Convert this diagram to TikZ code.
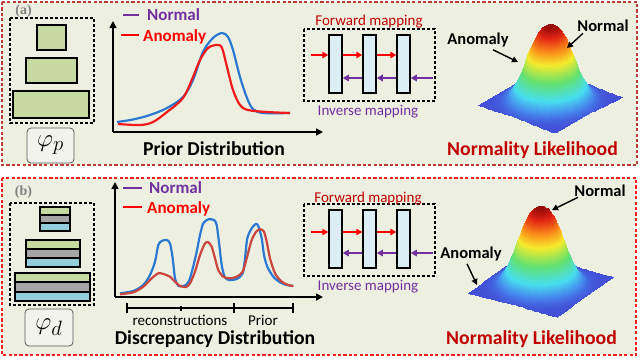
\documentclass[tikz,border=0pt]{standalone}
\usepackage{fontspec}
\setmainfont{Carlito}
\newfontfamily\labelserif{Liberation Serif}
\usepackage{pgfplots}
\pgfplotsset{compat=1.18}
\usetikzlibrary{arrows.meta}
\definecolor{panelbg}{HTML}{EDF0E1}
\definecolor{borderA}{HTML}{BE3A32}
\definecolor{borderB}{HTML}{FF1E1E}
\definecolor{darkred}{HTML}{C00000}
\definecolor{purp}{HTML}{7030A0}
\definecolor{curveblue}{HTML}{2A78D2}
\definecolor{curvered}{HTML}{F01A1A}
\definecolor{curvebrown}{HTML}{C9453D}
\definecolor{greenfill}{HTML}{C6D9A0}
\definecolor{grayfill}{HTML}{A6A6A6}
\definecolor{bluefill}{HTML}{92CDDC}
\definecolor{flowfill}{HTML}{DCEDF3}
\definecolor{phifill}{HTML}{F3F3EE}
\pgfplotsset{colormap={myjet}{rgb255(0cm)=(66,80,215) rgb255(0.8cm)=(70,140,238) rgb255(2cm)=(70,222,240) rgb255(4cm)=(100,225,110) rgb255(6cm)=(245,235,45) rgb255(7.5cm)=(250,140,25) rgb255(9cm)=(225,35,20) rgb255(10cm)=(150,10,10)}}
\begin{document}
\begin{tikzpicture}[x=1pt,y=-1pt,
  panelA/.style={draw=borderA,fill=panelbg,line width=2.2pt,dash pattern=on 3.2pt off 2.2pt},
  panelB/.style={draw=borderB,fill=panelbg,line width=2.2pt,dash pattern=on 3.2pt off 2.2pt},
  dashbox/.style={draw=black,line width=1.3pt,dash pattern=on 3pt off 2pt},
  gbox/.style={draw=black,fill=greenfill,line width=1.5pt},
  band/.style={draw=black,line width=1.4pt},
  phibox/.style={draw=black!65,fill=phifill,rounded corners=4pt,line width=0.8pt,inner sep=0pt,font=\fontsize{31}{32}\selectfont},
  panellab/.style={inner sep=0pt,anchor=base,text=black!50,font=\labelserif\bfseries\fontsize{14}{14}\selectfont},
  title/.style={inner sep=0pt,anchor=base,font=\bfseries\fontsize{19.7}{20}\selectfont},
  leg/.style={inner sep=0pt,anchor=base west,font=\bfseries\fontsize{17}{18}\selectfont},
  surflab/.style={inner sep=0pt,anchor=base,font=\bfseries\fontsize{16.5}{18}\selectfont},
  maptxt/.style={inner sep=0pt,anchor=base,font=\fontsize{15}{16}\selectfont},
  scaletxt/.style={inner sep=0pt,anchor=base,font=\fontsize{15}{16}\selectfont},
  axisarr/.style={draw=black,line width=1.6pt,-{Triangle[length=7pt,width=7pt]}},
  flowrect/.style={draw=black,fill=flowfill,line width=1.5pt,minimum width=13pt,minimum height=58pt,inner sep=0pt},
  redarr/.style={draw=red,line width=1.8pt,-{Triangle[length=6pt,width=6.5pt]}},
  purarr/.style={draw=purp,line width=1.8pt,-{Triangle[length=6pt,width=6.5pt]}},
  blackarr/.style={draw=black,line width=1.4pt,-{Triangle[length=6pt,width=6pt]}},
  bluecurve/.style={draw=curveblue,line width=2.2pt,line join=round},
  redcurve/.style={draw=curvered,line width=2.2pt,line join=round},
  browncurve/.style={draw=curvebrown,line width=2.2pt,line join=round},
  legline/.style={line width=1.8pt},
  scalebar/.style={draw=black,line width=1.5pt}
]
\useasboundingbox (0,0) rectangle (640,357);
\fill[white] (0,0) rectangle (640,357);

% ================= Panel (a) =================
\draw[panelA] (2,2) rectangle (637,165);
\node[panellab] (laba) at (23.5,14) {(a)};
\draw[dashbox] (10,18) rectangle (94,123);
\draw[gbox] (37,25) rectangle (66,50);
\draw[gbox] (26,58) rectangle (77,83);
\draw[gbox] (13,91) rectangle (89,118);
\node[phibox,minimum width=47pt,minimum height=35pt] (phip) at (50.5,145.5) {$\varphi_p$};

% axes
\coordinate (oa) at (113,132);
\coordinate (yta) at (113,21);
\coordinate (xta) at (323,132);
\draw[axisarr] (oa) -- (yta);
\draw[axisarr] (oa) -- (xta);
% legend
\coordinate (lna1) at (123,15); \coordinate (lna2) at (139,15);
\coordinate (laa1) at (121,35); \coordinate (laa2) at (139,35);
\draw[legline,purp] (lna1) -- (lna2);
\draw[legline,red] (laa1) -- (laa2);
\node[leg,text=purp] (normala) at (147,20) {Normal};
\node[leg,text=red] (anoma) at (143,41) {Anomaly};
% curves
\draw[bluecurve] plot[smooth,tension=0.55] coordinates {(117,122) (133,119.5) (150,115) (167,108) (183,97) (193,80) (203,52) (213,38) (222,33) (228,37) (233,50) (240,77) (247,98) (253,109) (263,113) (290,113)};
\draw[redcurve] plot[smooth,tension=0.55] coordinates {(118,124) (140,125) (153,122) (167,112) (183,98) (193,77) (200,60) (208,48) (217,45) (222,48) (227,67) (233,90) (240,105) (248,110) (267,112) (290,113)};
\node[title] (priora) at (214,155) {Prior Distribution};

% flow block
\draw[dashbox] (304,29) rectangle (435,101);
\node[flowrect] (fa1) at (335.5,64) {};
\node[flowrect] (fa2) at (369.5,64) {};
\node[flowrect] (fa3) at (403.5,64) {};
\coordinate (ra) at (311,55);
\coordinate (pa) at (433,78);
\draw[redarr] (ra) -- (ra -| fa1.west);
\draw[redarr] (ra -| fa1.east) -- (ra -| fa2.west);
\draw[redarr] (ra -| fa2.east) -- (ra -| fa3.west);
\draw[purarr] (pa) -- (pa -| fa3.east);
\draw[purarr] (pa -| fa3.west) -- (pa -| fa2.east);
\draw[purarr] (pa -| fa2.west) -- (pa -| fa1.east);
\node[maptxt,text=darkred] (fwa) at (369,25) {Forward mapping};
\node[maptxt,text=purp] (inva) at (368,115) {Inverse mapping};

% surface (a)
\begin{axis}[hide axis, disabledatascaling, anchor=origin, at={(550pt,-101pt)},
  x={(38.5pt,-14pt)}, y={(33.5pt,18pt)}, z={(0pt,76pt)}, clip=false,
  colormap name=myjet, point meta min=0, point meta max=1]
\addplot3[surf, shader=interp, z buffer=sort, samples=40, domain=-1:1, y domain=-1:1] {exp(-((x^2+y^2)/0.33)^1.25)};
\end{axis}
\node[surflab] (anomsa) at (478,44) {Anomaly};
\node[surflab] (normsa) at (603,31) {Normal};
\coordinate (anomtipa) at (518,62);
\coordinate (normtipa) at (567,48);
\draw[blackarr] ([shift={(15pt,-3pt)}]anomsa.south) -- (anomtipa);
\draw[blackarr] ([shift={(-20pt,-2pt)}]normsa.south) -- (normtipa);
\node[title,text=darkred] (nla) at (532.5,155) {Normality Likelihood};

% ================= Panel (b) =================
\draw[panelB] (2,178) rectangle (636,355);
\node[panellab] (labb) at (23.5,195) {(b)};
\draw[dashbox] (10,203) rectangle (94,305);
% stacks
\draw[band,fill=greenfill] (40,207) rectangle (70,215);
\draw[band,fill=grayfill] (40,215) rectangle (70,223);
\draw[band,fill=bluefill] (40,223) rectangle (70,231);
\draw[band,fill=greenfill] (26,240) rectangle (80,249);
\draw[band,fill=grayfill] (26,249) rectangle (80,258);
\draw[band,fill=bluefill] (26,258) rectangle (80,267);
\draw[band,fill=greenfill] (15,273) rectangle (90,282);
\draw[band,fill=grayfill] (15,282) rectangle (90,292);
\draw[band,fill=bluefill] (15,292) rectangle (90,301);
\node[phibox,minimum width=48pt,minimum height=37pt] (phid) at (49,327.5) {$\varphi_d$};

% axes
\coordinate (ob) at (115,297);
\coordinate (ytb) at (115,182);
\coordinate (xtb) at (323,297);
\draw[axisarr] (ob) -- (ytb);
\draw[axisarr] (ob) -- (xtb);
% legend
\coordinate (lnb1) at (123,188); \coordinate (lnb2) at (142,188);
\coordinate (lab1) at (123,207); \coordinate (lab2) at (142,207);
\draw[legline,purp] (lnb1) -- (lnb2);
\draw[legline,red] (lab1) -- (lab2);
\node[leg,text=purp] (normalb) at (149,193) {Normal};
\node[leg,text=red] (anomb) at (147,213) {Anomaly};
% curves
\draw[bluecurve] plot[smooth,tension=0.45] coordinates {(120,293.3) (133.3,291) (143.3,285) (150,275) (155,261.7) (158.3,245) (161.7,241) (166.7,240) (170,243.3) (172.7,258.3) (175,278.3) (178.3,285.7) (181.7,286) (186,285) (190,278.3) (196,255) (200,235) (203.3,223.3) (208.3,219.3) (214,220) (216.7,225) (219.3,245) (221.7,265) (225,277.7) (230,280) (236.7,279) (242.7,273.3) (245,258.3) (247.3,238.3) (251.7,228.3) (255.7,224) (258.3,226) (261.7,238.3) (264,255) (267.3,266.7) (273.3,276.7) (280,282.3) (286.7,285) (293.3,286)};
\draw[browncurve] plot[smooth,tension=0.45] coordinates {(120,294.3) (133.3,292.3) (143.3,286.7) (151.7,278.3) (158.3,273.3) (163.3,274) (170,276.7) (175,281.7) (180,286) (186,287) (190,283.3) (195,271.7) (200,255) (205,243.3) (208.3,242.3) (211.7,246.7) (215,258.3) (218.3,270) (223.3,276.7) (230,278.3) (236.7,276.7) (242.7,271.7) (246.7,258.3) (251.7,240) (256.7,231) (260.7,229.3) (264,231.7) (266.7,241.7) (270,258.3) (275,273.3) (281.7,281.7) (288.3,285) (293.3,286)};
% scale bar
\coordinate (s0) at (127,308);
\coordinate (s1) at (181,308);
\coordinate (s2) at (234,308);
\coordinate (s3) at (293,308);
\draw[scalebar] (s0) -- (s3);
\draw[scalebar] ([yshift=5pt]s0) -- ([yshift=-5pt]s0);
\draw[scalebar] ([yshift=2.5pt]s1) -- ([yshift=-2.5pt]s1);
\draw[scalebar] ([yshift=5pt]s2) -- ([yshift=-5pt]s2);
\draw[scalebar] ([yshift=5pt]s3) -- ([yshift=-5pt]s3);
\node[scaletxt] (recon) at (180,325) {reconstructions};
\node[scaletxt] (priortxt) at (263,325) {Prior};
\node[title] (discb) at (215,344) {Discrepancy Distribution};

% flow block
\draw[dashbox] (304,204) rectangle (435,276);
\node[flowrect] (fb1) at (335.5,239) {};
\node[flowrect] (fb2) at (369.5,239) {};
\node[flowrect] (fb3) at (403.5,239) {};
\coordinate (rb) at (311,232);
\coordinate (pb) at (433,253);
\draw[redarr] (rb) -- (rb -| fb1.west);
\draw[redarr] (rb -| fb1.east) -- (rb -| fb2.west);
\draw[redarr] (rb -| fb2.east) -- (rb -| fb3.west);
\draw[purarr] (pb) -- (pb -| fb3.east);
\draw[purarr] (pb -| fb3.west) -- (pb -| fb2.east);
\draw[purarr] (pb -| fb2.west) -- (pb -| fb1.east);
\node[maptxt,text=darkred] (fwb) at (368,202) {Forward mapping};
\node[maptxt,text=purp] (invb) at (368,290) {Inverse mapping};

% surface (b)
\begin{axis}[hide axis, disabledatascaling, anchor=origin, at={(540.5pt,-285pt)},
  x={(44.5pt,-12pt)}, y={(28pt,20pt)}, z={(0pt,78pt)}, clip=false,
  colormap name=myjet, point meta min=0, point meta max=1]
\addplot3[surf, shader=interp, z buffer=sort, samples=40, domain=-1:1, y domain=-1:1] {exp(-((x^2+y^2)/0.3)^1.25)};
\end{axis}
\node[surflab] (normsb) at (600,196) {Normal};
\node[surflab] (anomsb) at (471,258) {Anomaly};
\coordinate (normtipb) at (552,210);
\coordinate (anomtipb) at (477,285);
\draw[blackarr] ([shift={(-22pt,-1pt)}]normsb.south) -- (normtipb);
\draw[blackarr] ([shift={(-4pt,-3pt)}]anomsb.south) -- (anomtipb);
\node[title,text=darkred] (nlb) at (531.5,344) {Normality Likelihood};
\end{tikzpicture}
\end{document}
